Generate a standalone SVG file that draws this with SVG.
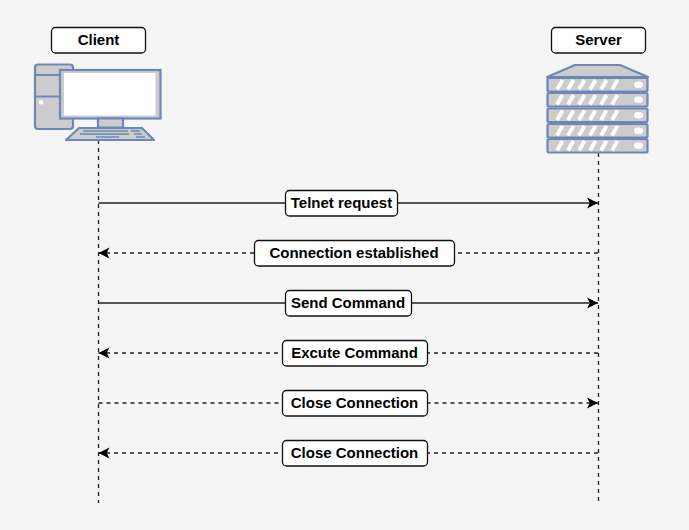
<svg xmlns="http://www.w3.org/2000/svg" width="689" height="530" viewBox="0 0 689 530">
<style>
text{font-family:"Liberation Sans",Arial,sans-serif;font-size:15px;font-weight:bold;fill:#000;text-anchor:middle}
.box{fill:#fff;stroke:#111;stroke-width:1.300}
.ln{fill:none;stroke:#222;stroke-width:1.300}
.d{stroke-dasharray:4 4}
.ic{fill:#ccc;stroke:#6d87b8;stroke-width:2.200;stroke-linejoin:round}
.th{fill:none;stroke:#6d87b8;stroke-width:2.200}
.th2{fill:none;stroke:#6d87b8;stroke-width:1.600}
.st{fill:none;stroke:#fff;stroke-width:3.800}
</style>
<defs>
<marker id="a" markerUnits="userSpaceOnUse" markerWidth="14" markerHeight="14" refX="12" refY="7" orient="auto"><path d="M1 1.500L12 7L1 12.500L3.800 7Z" fill="#000"/></marker>
</defs>
<rect width="689" height="530" fill="#f5f5f5"/>
<g id="connectors">
<path class="ln d" d="M98.500 140V503"/>
<path class="ln d" d="M598.500 153V503"/>
<path class="ln" d="M98.500 203H598" marker-end="url(#a)"/>
<path class="ln d" d="M598 253H98.500" marker-end="url(#a)"/>
<path class="ln" d="M98.500 303H598" marker-end="url(#a)"/>
<path class="ln d" d="M598 353H98.500" marker-end="url(#a)"/>
<path class="ln d" d="M98.500 403H598" marker-end="url(#a)"/>
<path class="ln d" d="M598 453H98.500" marker-end="url(#a)"/>
</g>
<g id="client"><rect class="box" x="51.500" y="27.500" width="94" height="25.500" rx="4"/><text x="98.500" y="45">Client</text></g>
<g id="client-icon">
<rect class="ic" x="35" y="64.500" width="38" height="64.500" rx="3"/>
<path class="th" d="M35 75H60M35 96.500H60"/>
<circle cx="41" cy="102.300" r="2.300" fill="#fff"/>
<rect x="60" y="70" width="100.500" height="48.500" fill="#ccc" stroke="#6d87b8" stroke-width="2.200"/>
<rect x="64" y="73" width="91.500" height="42.500" fill="#fff"/>
<rect class="ic" x="98" y="118.500" width="25" height="9"/>
<path class="ic" d="M79 128H142L154 140H66Z"/>
<path class="th2" d="M83 131H128M131 131H140M80 134H129M134 134H142M96 137H119M136 137H145"/>
</g>
<g id="server"><rect class="box" x="551.500" y="27.500" width="94" height="25.500" rx="4"/><text x="598.500" y="45">Server</text></g>
<g id="server-icon">
<path class="ic" d="M547 77L575 65H620L648 77Z"/>
<g id="rack">
<rect class="ic" x="547.500" y="78" width="100" height="13.500" rx="1.500"/>
<rect class="ic" x="547.500" y="93" width="100" height="13.500" rx="1.500"/>
<rect class="ic" x="547.500" y="108.500" width="100" height="13.500" rx="1.500"/>
<rect class="ic" x="547.500" y="124" width="100" height="13.500" rx="1.500"/>
<rect class="ic" x="547.500" y="139" width="100" height="13.500" rx="1.500"/>
</g>
<path class="st" d="M557 89.500L562.500 80M568 89.500L573.500 80M579 89.500L584.500 80M590 89.500L595.500 80M601 89.500L606.500 80M612 89.500L617.500 80M557 104.500L562.500 95M568 104.500L573.500 95M579 104.500L584.500 95M590 104.500L595.500 95M601 104.500L606.500 95M612 104.500L617.500 95M557 120L562.500 110.500M568 120L573.500 110.500M579 120L584.500 110.500M590 120L595.500 110.500M601 120L606.500 110.500M612 120L617.500 110.500M557 135.500L562.500 126M568 135.500L573.500 126M579 135.500L584.500 126M590 135.500L595.500 126M601 135.500L606.500 126M612 135.500L617.500 126M557 150.500L562.500 141M568 150.500L573.500 141M579 150.500L584.500 141M590 150.500L595.500 141M601 150.500L606.500 141M612 150.500L617.500 141"/>
<g fill="#fff"><ellipse cx="638.500" cy="84.700" rx="4.500" ry="3.300"/><ellipse cx="638.500" cy="99.700" rx="4.500" ry="3.300"/><ellipse cx="638.500" cy="115.200" rx="4.500" ry="3.300"/><ellipse cx="638.500" cy="130.700" rx="4.500" ry="3.300"/><ellipse cx="638.500" cy="145.700" rx="4.500" ry="3.300"/></g>
</g>
<g id="m1"><rect class="box" x="285.500" y="190.500" width="112" height="25.500" rx="4"/><text x="341.500" y="208">Telnet request</text></g>
<g id="m2"><rect class="box" x="254.500" y="240.500" width="200" height="25.500" rx="4"/><text x="354" y="258">Connection established</text></g>
<g id="m3"><rect class="box" x="285.500" y="290.500" width="126" height="25.500" rx="4"/><text x="348" y="308">Send Command</text></g>
<g id="m4"><rect class="box" x="282.500" y="340.500" width="145" height="25.500" rx="4"/><text x="354.500" y="358">Excute Command</text></g>
<g id="m5"><rect class="box" x="282.500" y="390.500" width="145" height="25.500" rx="4"/><text x="354.500" y="408">Close Connection</text></g>
<g id="m6"><rect class="box" x="282.500" y="440.500" width="145" height="25.500" rx="4"/><text x="354.500" y="458">Close Connection</text></g>
</svg>
